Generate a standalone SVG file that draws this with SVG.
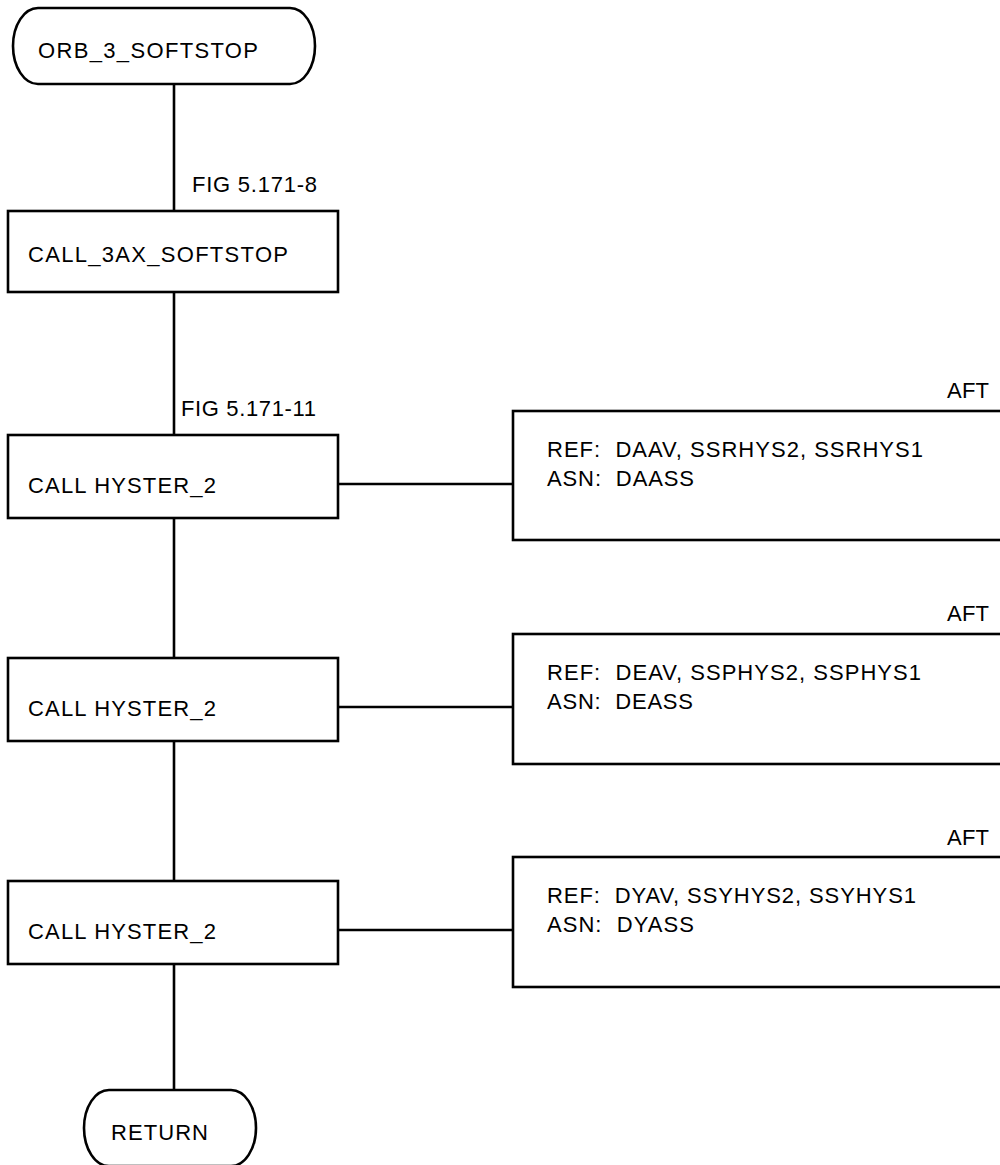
<svg xmlns="http://www.w3.org/2000/svg" width="1000" height="1165" viewBox="0 0 1000 1165">
<style>
.s{fill:#fff;stroke:#000;stroke-width:2.6}
.c{fill:none;stroke:#000;stroke-width:2.6}
text{font-family:"Liberation Sans",Arial,sans-serif;font-size:22px;fill:#000;white-space:pre}
</style>
<rect width="1000" height="1165" fill="#fff"/>
<g id="connectors">
<line class="c" x1="174" y1="84" x2="174" y2="211"/>
<line class="c" x1="174" y1="292" x2="174" y2="435"/>
<line class="c" x1="174" y1="518" x2="174" y2="658"/>
<line class="c" x1="174" y1="741" x2="174" y2="881"/>
<line class="c" x1="174" y1="964" x2="174" y2="1090"/>
<line class="c" x1="338" y1="484" x2="513" y2="484"/>
<line class="c" x1="338" y1="707" x2="513" y2="707"/>
<line class="c" x1="338" y1="930" x2="513" y2="930"/>
<text x="192" y="192" textLength="125" lengthAdjust="spacing">FIG 5.171-8</text>
<text x="181" y="416" textLength="135" lengthAdjust="spacing">FIG 5.171-11</text>
</g>
<g id="start">
<rect class="s" x="13" y="8" width="302" height="76" rx="25" ry="38"/>
<text x="38" y="58" textLength="220" lengthAdjust="spacing">ORB_3_SOFTSTOP</text>
</g>
<g id="call3ax">
<rect class="s" x="8" y="211" width="330" height="81"/>
<text x="28" y="262" textLength="260" lengthAdjust="spacing">CALL_3AX_SOFTSTOP</text>
</g>
<g id="hyster1">
<rect class="s" x="8" y="435" width="330" height="83"/>
<text x="28" y="493" textLength="188" lengthAdjust="spacing">CALL HYSTER_2</text>
</g>
<g id="aft1">
<text x="947" y="398" textLength="42" lengthAdjust="spacing">AFT</text>
<rect class="s" x="513" y="411" width="500" height="129"/>
<text x="547" y="457" textLength="376" lengthAdjust="spacing">REF:  DAAV, SSRHYS2, SSRHYS1</text>
<text x="547" y="486" textLength="147" lengthAdjust="spacing">ASN:  DAASS</text>
</g>
<g id="hyster2">
<rect class="s" x="8" y="658" width="330" height="83"/>
<text x="28" y="716" textLength="188" lengthAdjust="spacing">CALL HYSTER_2</text>
</g>
<g id="aft2">
<text x="947" y="621" textLength="42" lengthAdjust="spacing">AFT</text>
<rect class="s" x="513" y="634" width="500" height="130"/>
<text x="547" y="680" textLength="374" lengthAdjust="spacing">REF:  DEAV, SSPHYS2, SSPHYS1</text>
<text x="547" y="709" textLength="146" lengthAdjust="spacing">ASN:  DEASS</text>
</g>
<g id="hyster3">
<rect class="s" x="8" y="881" width="330" height="83"/>
<text x="28" y="939" textLength="188" lengthAdjust="spacing">CALL HYSTER_2</text>
</g>
<g id="aft3">
<text x="947" y="845" textLength="42" lengthAdjust="spacing">AFT</text>
<rect class="s" x="513" y="857" width="500" height="130"/>
<text x="547" y="903" textLength="369" lengthAdjust="spacing">REF:  DYAV, SSYHYS2, SSYHYS1</text>
<text x="547" y="932" textLength="147" lengthAdjust="spacing">ASN:  DYASS</text>
</g>
<g id="return">
<rect class="s" x="84" y="1090" width="172" height="76" rx="25" ry="38"/>
<text x="111" y="1140" textLength="97" lengthAdjust="spacing">RETURN</text>
</g>
</svg>
